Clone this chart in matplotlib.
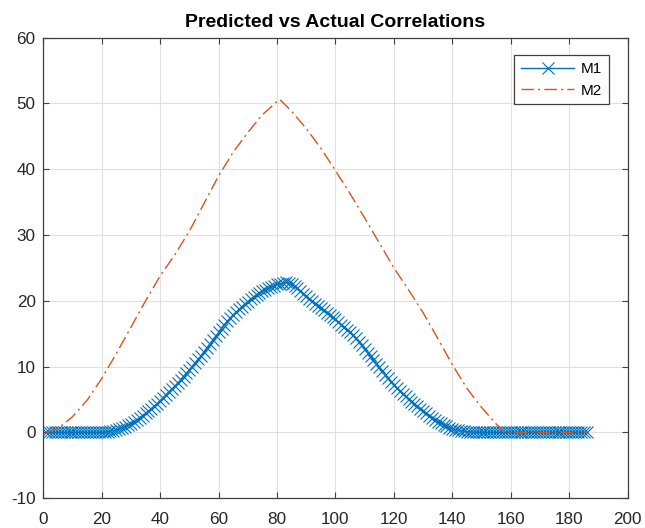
import numpy as np
import matplotlib
matplotlib.use("Agg")
import matplotlib.pyplot as plt

plt.rcParams['font.family'] = ['Liberation Sans', 'DejaVu Sans']
plt.rcParams['axes.unicode_minus'] = False

title = "Predicted vs Actual Correlations"
labels = ["M1", "M2"]

# M1: value at each index 1..186
m1_values = [
    0, 0, 0, 0, 0, 0, 0, 0, 0, 0,
    0, 0, 0, 0, 0, 0, 0, 0, 0, 0,
    0.05, 0.1, 0.2, 0.3, 0.4, 0.55, 0.7, 0.9, 1.1, 1.35,
    1.6, 1.9, 2.2, 2.55, 2.9, 3.25, 3.6, 4.0, 4.4, 4.85,
    5.3, 5.75, 6.2, 6.6, 7.05, 7.5, 8.0, 8.5, 9.0, 9.5,
    10.0, 10.6, 11.1, 11.6, 12.2, 12.8, 13.4, 14.0, 14.6, 15.2,
    15.8, 16.4, 16.9, 17.4, 17.9, 18.3, 18.7, 19.1, 19.5, 19.9,
    20.3, 20.6, 20.9, 21.2, 21.5, 21.7, 21.9, 22.1, 22.3, 22.5,
    22.6, 22.7, 22.8, 22.7, 22.5, 22.2, 21.9, 21.5, 21.1, 20.7,
    20.35, 20.0, 19.6, 19.25, 18.9, 18.55, 18.2, 17.9, 17.55, 17.2,
    16.8, 16.4, 16.0, 15.65, 15.3, 14.8, 14.3, 13.8, 13.25, 12.7,
    12.15, 11.6, 11.0, 10.45, 9.9, 9.35, 8.8, 8.25, 7.7, 7.2,
    6.75, 6.3, 5.9, 5.5, 5.1, 4.7, 4.3, 3.95, 3.6, 3.25,
    2.9, 2.55, 2.25, 1.95, 1.65, 1.4, 1.15, 0.95, 0.75, 0.6,
    0.45, 0.35, 0.25, 0.18, 0.12, 0.08, 0.05, 0.03, 0.01, 0,
    0, 0, 0, 0, 0, 0, 0, 0, 0, 0,
    0, 0, 0, 0, 0, 0, 0, 0, 0, 0,
    0, 0, 0, 0, 0, 0, 0, 0, 0, 0,
    0, 0, 0, 0, 0, 0,
]
m1_x = list(range(1, len(m1_values) + 1))

# M2: sampled points of the dash-dot line
m2_x = [1, 5, 10, 15, 20, 25, 30, 35, 40, 45, 50, 55, 60, 65, 70, 75, 80, 81,
        85, 90, 95, 100, 105, 110, 115, 120, 125, 130, 135, 140, 145, 150, 155,
        158, 170, 186]
m2_values = [0, 0.6, 2.4, 4.9, 8.2, 12.0, 16.0, 20.0, 23.8, 27.0, 30.6, 34.8,
             39.0, 42.6, 45.6, 48.3, 50.3, 50.6, 48.8, 46.2, 43.2, 39.8, 36.3,
             32.6, 28.8, 25.0, 21.7, 18.2, 14.3, 10.3, 6.7, 3.8, 1.3, 0, 0, 0]

xticks = list(range(0, 201, 20))
yticks = list(range(-10, 61, 10))

fig = plt.figure(figsize=(6.45, 5.28), dpi=100)
ax = fig.add_axes([0.0671, 0.0563, 0.906, 0.8723])

ax.plot(m1_x, m1_values, color='#0072BD', marker='x', markersize=8,
        markeredgewidth=0.8, linewidth=1.0, label=labels[0], zorder=2)
ax.plot(m2_x, m2_values, color='#D95319', linestyle=(0, (9, 3, 1.5, 3)),
        linewidth=1.0, label=labels[1], zorder=3)

ax.set_xlim(0, 200)
ax.set_ylim(-10, 60)
ax.set_xticks(xticks)
ax.set_yticks(yticks)
ax.grid(True, color='#e0e0e0', linewidth=0.8)
ax.set_axisbelow(True)
ax.tick_params(direction='in', top=True, right=True, length=4, width=0.8,
               color='#404040', labelsize=12.3, labelcolor='#262626')
ax.tick_params(axis='x', pad=10)
ax.tick_params(axis='y', pad=5.5)
for s in ax.spines.values():
    s.set_color('#404040')
    s.set_linewidth(0.9)

ax.set_title(title, fontsize=14, fontweight='bold', pad=7.5)
leg = ax.legend(loc='upper right', bbox_to_anchor=(0.9685, 0.9624),
                borderaxespad=0, fancybox=False,
                edgecolor='#404040', framealpha=1, fontsize=11,
                handlelength=3.5, handletextpad=0.45, borderpad=0.45,
                labelspacing=0.5)
leg.get_frame().set_linewidth(0.9)

fig.savefig('out.png', dpi=100)
